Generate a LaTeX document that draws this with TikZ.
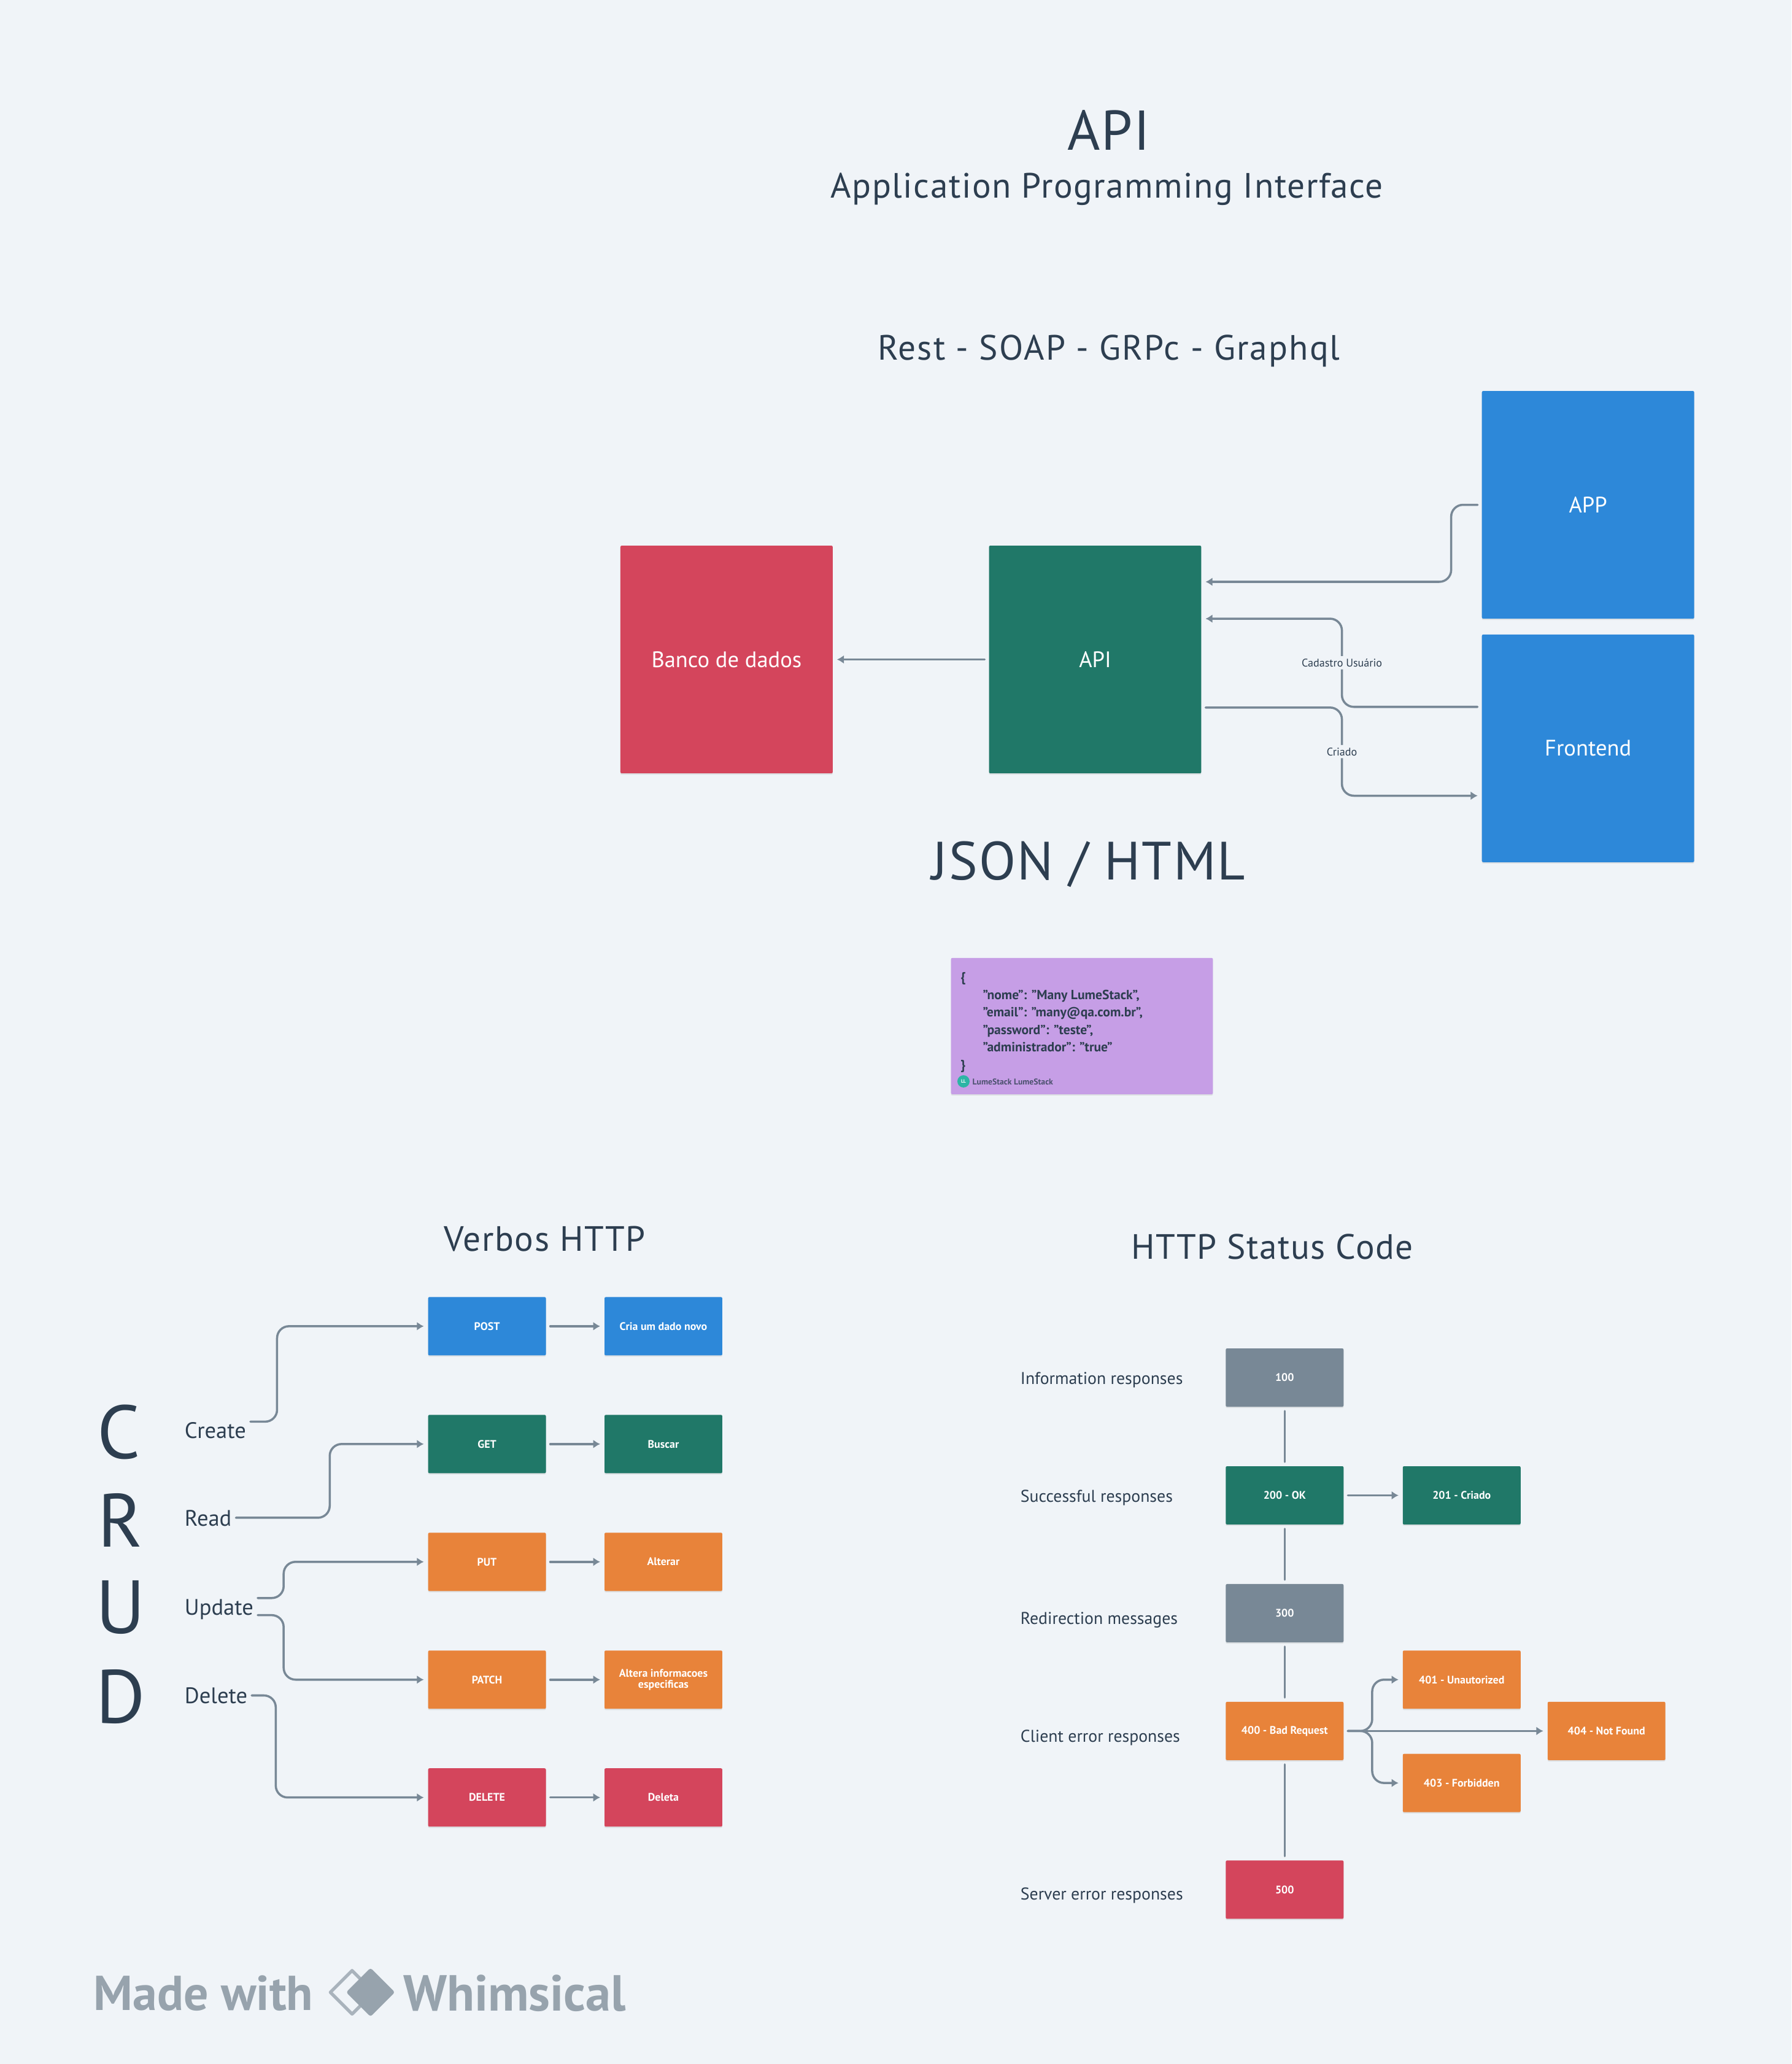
\documentclass[tikz,border=0pt]{standalone}
\usepackage{fontspec}
\usepackage{tikz}
\usepackage{xcolor}
\setmainfont{PT Sans}
\usetikzlibrary{arrows.meta, shadows}
\definecolor{Whim_Bg}{HTML}{F0F4F8}
\definecolor{Whim_Ink}{HTML}{2D3E50}
\definecolor{Whim_Line}{HTML}{788896}
\definecolor{Whim_Blue}{HTML}{2D88D9}
\definecolor{Whim_Green}{HTML}{207868}
\definecolor{Whim_Red}{HTML}{D4455C}
\definecolor{Whim_Orange}{HTML}{E8833A}
\definecolor{Whim_Purple}{HTML}{C69EE6}
\definecolor{Whim_Teal}{HTML}{2DB5A5}
\definecolor{Whim_Logo}{HTML}{97A3AD}
\newcommand{\fsize}[1]{\fontsize{#1}{#1}\selectfont}
\tikzset{
    card/.style={rounded corners=0.6pt, inner sep=0pt, text=white, align=center,
        drop shadow={shadow xshift=0pt, shadow yshift=-0.6pt, opacity=0.18}},
    bigbox/.style={card, minimum width=3.46cm, minimum height=3.71cm, font=\fsize{10.4}},
    smallbox/.style={card, minimum width=1.92cm, minimum height=0.95cm, font=\fsize{5.1}\bfseries},
    title/.style={text=Whim_Ink, inner sep=0pt, font=\fsize{16.3}\addfontfeature{LetterSpace=2.7}},
    crud/.style={text=Whim_Ink, inner sep=0pt, font=\fsize{35}},
    rowlabel/.style={text=Whim_Ink, inner sep=0pt, anchor=west, font=\fsize{7.9}},
    edgelabel/.style={text=Whim_Ink, fill=Whim_Bg, inner sep=1.2pt, font=\fsize{5.15}},
    link/.style={draw=Whim_Line, line width=1pt, rounded corners=5.5pt, line cap=round,
        shorten <=1.8pt, shorten >=1.8pt},
    linkto/.style={link, -{Latex[length=3.2pt, width=4pt]}},
    brand/.style={text=Whim_Logo, inner sep=0pt, anchor=west, font=\fsize{22.7}\bfseries}
}
\begin{document}
\begin{tikzpicture}[x=0.02145cm, y=-0.02145cm]
        % Background
        \fill[Whim_Bg] (0,0) rectangle (1361,1568);
        \useasboundingbox (0,0) rectangle (1361,1568);

        % 1. Titles
        \node[title, font=\fsize{26}\addfontfeature{LetterSpace=2}] (apiTitle) at (842.5,99) {API};
        \node[title] (apiName) at (841,143.5) {Application Programming Interface};
        \node[title, font=\fsize{16.3}\addfontfeature{LetterSpace=3.7}] (styles) at (842.5,266.5) {Rest - SOAP - GRPc - Graphql};
        \node[title, font=\fsize{25}\addfontfeature{LetterSpace=2.7}] (formats) at (827,656.5) {JSON / HTML};
        \node[title] (verbos) at (414,941) {Verbos HTTP};
        \node[title] (status) at (966.5,947) {HTTP Status Code};

        % 2. Main boxes
        \node[bigbox, fill=Whim_Red] (banco) at (552,501) {\raisebox{-0.3pt}{Banco de dados}};
        \node[bigbox, fill=Whim_Green] (api) at (832,501) {\raisebox{-0.3pt}{API}};
        \node[bigbox, fill=Whim_Blue] (app) at (1206.5,383.5) {\raisebox{-0.3pt}{APP}};
        \node[bigbox, fill=Whim_Blue] (frontend) at (1206.5,568.5) {\raisebox{-0.3pt}{Frontend}};

        \draw[linkto] (api) -- (banco);
        \draw[linkto] (app.west) -- (1102.5,383.5) -- (1102.5,442) -- (api.east |- 0,442);
        \draw[linkto] (frontend.west |- 0,537) -- (1019.5,537)
            -- node[edgelabel] {Cadastro Usuário} (1019.5,470) -- (api.east |- 0,470);
        \draw[linkto] (api.east |- 0,537.5) -- (1019.5,537.5)
            -- node[edgelabel] {Criado} (1019.5,604.5) -- (frontend.west |- 0,604.5);

        % 3. JSON note
        \node[card, fill=Whim_Purple, minimum width=4.27cm, minimum height=2.22cm] (note) at (822,779.5) {};
        \node[anchor=north west, align=left, inner sep=0pt, text=Whim_Ink, font=\fontsize{6.15}{8.1}\selectfont\bfseries] (noteText) at (729.5,738.5) {%
            \{\\
            \hspace*{10.3pt}"nome": "Many LumeStack",\\
            \hspace*{10.3pt}"email": "many@qa.com.br",\\
            \hspace*{10.3pt}"password": "teste",\\
            \hspace*{10.3pt}"administrador": "true"\\
            \}
        };
        \node[circle, fill=Whim_Teal, text=white, minimum size=0.2cm, inner sep=0pt, font=\fsize{2.2}\bfseries] (avatar) at (732,821.5) {LL};
        \node[anchor=west, inner sep=0pt, text=Whim_Ink!80!Whim_Purple, font=\fsize{3.9}\bfseries] (noteUser) at (738.5,822) {LumeStack LumeStack};

        % 4. CRUD
        \node[crud] (letterC) at (90.5,1088) {C};
        \node[crud] (letterR) at (91.5,1155) {R};
        \node[crud] (letterU) at (91.5,1221) {U};
        \node[crud] (letterD) at (91.5,1289) {D};
        \node[rowlabel, font=\fsize{10.4}] (create) at (140,1086.5) {Create};
        \node[rowlabel, font=\fsize{10.4}] (read) at (140,1153.5) {Read};
        \node[rowlabel, font=\fsize{10.4}] (update) at (140,1222.5) {Update};
        \node[rowlabel, font=\fsize{10.4}] (delete) at (140,1288) {Delete};

        \node[smallbox, fill=Whim_Blue] (post) at (370,1007.5) {POST};
        \node[smallbox, fill=Whim_Green] (get) at (370,1097) {GET};
        \node[smallbox, fill=Whim_Orange] (put) at (370,1186.5) {PUT};
        \node[smallbox, fill=Whim_Orange] (patch) at (370,1276) {PATCH};
        \node[smallbox, fill=Whim_Red] (del) at (370,1365.5) {DELETE};

        \node[smallbox, fill=Whim_Blue] (cria) at (504,1007.5) {Cria um dado novo};
        \node[smallbox, fill=Whim_Green] (buscar) at (504,1097) {Buscar};
        \node[smallbox, fill=Whim_Orange] (alterar) at (504,1186.5) {Alterar};
        \node[smallbox, fill=Whim_Orange] (altera) at (504,1276) {Altera informacoes\\especificas};
        \node[smallbox, fill=Whim_Red] (deleta) at (504,1365.5) {Deleta};

        \foreach \verbo/\acao in {post/cria, get/buscar, put/alterar, patch/altera, del/deleta} {
            \draw[linkto] (\verbo) -- (\acao);
        }

        \draw[linkto] (create.east |- 0,1080) -- (210.5,1080) -- (210.5,1007.5) -- (post);
        \draw[linkto] (read.east |- 0,1153) -- (250.5,1153) -- (250.5,1097) -- (get);
        \draw[linkto] (update.east |- 0,1214) -- (215.5,1214) -- (215.5,1186.5) -- (put);
        \draw[linkto] (update.east |- 0,1227) -- (215.5,1227) -- (215.5,1276) -- (patch);
        \draw[linkto] (delete.east |- 0,1288) -- (209.5,1288) -- (209.5,1365.5) -- (del);

        % 5. Status codes
        \node[rowlabel] (info) at (775,1048.5) {Information responses};
        \node[rowlabel] (success) at (775,1138) {Successful responses};
        \node[rowlabel] (redirect) at (775,1230.5) {Redirection messages};
        \node[rowlabel] (client) at (775,1320) {Client error responses};
        \node[rowlabel] (server) at (775,1440) {Server error responses};

        \node[smallbox, fill=Whim_Line] (c100) at (976,1046.5) {100};
        \node[smallbox, fill=Whim_Green] (c200) at (976,1136) {200 - OK};
        \node[smallbox, fill=Whim_Green] (c201) at (1110.5,1136) {201 - Criado};
        \node[smallbox, fill=Whim_Line] (c300) at (976,1225.5) {300};
        \node[smallbox, fill=Whim_Orange] (c400) at (976,1315) {400 - Bad Request};
        \node[smallbox, fill=Whim_Orange] (c401) at (1110.5,1276) {401 - Unautorized};
        \node[smallbox, fill=Whim_Orange] (c403) at (1110.5,1354.5) {403 - Forbidden};
        \node[smallbox, fill=Whim_Orange] (c404) at (1220.5,1315) {404 - Not Found};
        \node[smallbox, fill=Whim_Red] (c500) at (976,1435.5) {500};

        \foreach \de/\para in {c100/c200, c200/c300, c300/c400, c400/c500} {
            \draw[link] (\de) -- (\para);
        }
        \draw[linkto] (c200) -- (c201);
        \draw[linkto] (c400) -- (c404);
        \draw[linkto] (c400.east) -- (1042.5,1315) -- (1042.5,1276) -- (c401);
        \draw[linkto] (c400.east) -- (1042.5,1315) -- (1042.5,1354.5) -- (c403);

        % 6. Footer
        \node[brand] (made) at (71,1514) {Made with};
        \node[brand, font=\fsize{23.5}\bfseries] (whimsical) at (306,1514) {Whimsical};
        \draw[Whim_Logo!80!Whim_Bg, line width=1.5pt, line join=round] (251,1513.5) -- (267.5,1497) -- (284,1513.5) -- (267.5,1530) -- cycle;
        \fill[Whim_Logo, rounded corners=1pt] (263,1513.5) -- (281.5,1495) -- (300,1513.5) -- (281.5,1532) -- cycle;

    \end{tikzpicture}
\end{document}
